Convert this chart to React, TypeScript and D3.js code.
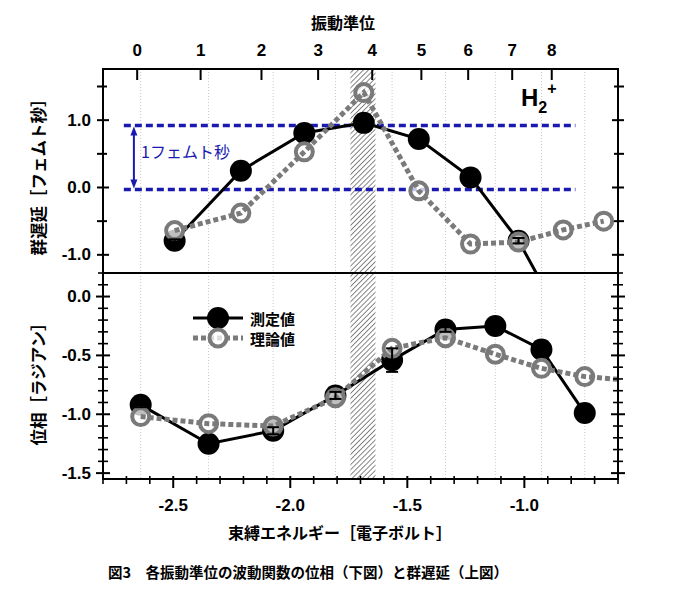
import React from "react";
import * as d3 from "d3";

// ---- data ----
const energyLevels = [-2.639, -2.349, -2.073, -1.807, -1.565, -1.337, -1.124, -0.927, -0.742];
const measuredPhase = [-0.92, -1.25, -1.14, -0.84, -0.54, -0.28, -0.25, -0.45, -0.99];
const measuredPhaseErr = [0.02, 0.02, 0.03, 0.03, 0.1, 0.02, 0.02, 0.03, 0.02];
const theoryPhaseEnergy = [-2.639, -2.349, -2.073, -1.807, -1.565, -1.337, -1.124, -0.927, -0.742, -0.5];
const theoryPhase = [-1.02, -1.08, -1.1, -0.86, -0.44, -0.35, -0.49, -0.61, -0.68, -0.72];

const delayEnergy = [-2.494, -2.211, -1.94, -1.686, -1.451, -1.23, -1.025, -0.834, -0.661];
const measuredDelay = [-0.79, 0.25, 0.81, 0.96, 0.72, 0.15, -0.79, -2.0];
const measuredDelayErr = [0.02, 0.02, 0.02, 0.02, 0.02, 0.02, 0.04, 0.02];
const theoryDelay = [-0.64, -0.38, 0.53, 1.41, -0.05, -0.84, -0.81, -0.63, -0.5];

const vibTickEnergy = [-2.654, -2.383, -2.123, -1.881, -1.65, -1.44, -1.24, -1.052, -0.883];
const vibTickLabels = ["0", "1", "2", "3", "4", "5", "6", "7", "8"];
const bottomTicks = [-2.5, -2.0, -1.5, -1.0];
const upperTicks = [-1.0, 0.0, 1.0];
const lowerTicks = [-1.5, -1.0, -0.5, 0.0];
const bandRange = [-1.743, -1.636];
const fsLines = [0.92, -0.03];
const fsLineRange = [-2.711, -0.782];
const fsArrowEnergy = -2.668;

const W = 680, H = 600;
const L = 103, R = 618, T = 69, MID = 273, B = 479;
const FONT = "'Liberation Sans', Arial, sans-serif";
const JFONT = "'Noto Sans CJK JP', 'Liberation Sans', sans-serif";
const BLUE = "#1a1ab0";
const GRAY = "#7a7a7a";

export default function App() {
  const x = d3.scaleLinear().domain([-2.8, -0.6]).range([L, R]);
  const yU = d3.scaleLinear().domain([-1.27, 1.76]).range([MID, T]);
  const yL = d3.scaleLinear().domain([-1.55, 0.2]).range([B, MID]);

  const lineU = d3.line<[number, number]>().x(d => x(d[0])).y(d => yU(d[1]));
  const lineL = d3.line<[number, number]>().x(d => x(d[0])).y(d => yL(d[1]));

  const mDelay: [number, number][] = measuredDelay.map((v, i) => [delayEnergy[i], v]);
  const tDelay: [number, number][] = theoryDelay.map((v, i) => [delayEnergy[i], v]);
  const mPhase: [number, number][] = measuredPhase.map((v, i) => [energyLevels[i], v]);
  const tPhase: [number, number][] = theoryPhase.map((v, i) => [theoryPhaseEnergy[i], v]);

  const bottomMinor = d3.range(-2.8, -0.59, 0.1).map(v => +v.toFixed(2));
  const upperMinor = d3.range(-1.0, 1.51, 0.5);
  const lowerMinor = d3.range(-1.5, 0.21, 0.1).map(v => +v.toFixed(2));

  const RB = 11; // black marker radius
  const RO = 8.5; // open marker radius

  const errBar = (cx: number, cy0: number, cy1: number, key: string) => (
    <g key={key} stroke="#000" strokeWidth={2}>
      <line x1={cx} x2={cx} y1={cy0} y2={cy1} />
      <line x1={cx - 6} x2={cx + 6} y1={cy0} y2={cy0} />
      <line x1={cx - 6} x2={cx + 6} y1={cy1} y2={cy1} />
    </g>
  );

  return (
    <svg width={W} height={H} style={{ position: "absolute", left: 0, top: 0, background: "#fff" }}>
      <defs>
        <clipPath id="clipU"><rect x={L} y={T} width={R - L} height={MID - T} /></clipPath>
        <clipPath id="clipL"><rect x={L} y={MID} width={R - L} height={B - MID} /></clipPath>
        <pattern id="hatch" patternUnits="userSpaceOnUse" width={3.6} height={3.6} patternTransform="rotate(45)">
          <line x1={0} y1={0} x2={0} y2={3.6} stroke="#444" strokeWidth={1.3} />
        </pattern>
      </defs>
      <rect x={0} y={0} width={W} height={H} fill="#fff" />

      {/* grid lines */}
      {energyLevels.map((e, i) => (
        <line key={"g" + i} x1={x(e)} x2={x(e)} y1={T} y2={B} stroke="#c8c8c8" strokeWidth={1} strokeDasharray="1,2" />
      ))}

      {/* hatched band */}
      <rect x={x(bandRange[0])} y={T} width={x(bandRange[1]) - x(bandRange[0])} height={B - T} fill="url(#hatch)" />

      {/* top axis ticks */}
      {vibTickEnergy.map((e, i) => (
        <g key={"vt" + i}>
          <line x1={x(e)} x2={x(e)} y1={T} y2={T + 11} stroke="#000" strokeWidth={2} />
          <text x={x(e)} y={50} textAnchor="middle" dominantBaseline="central" fontFamily={FONT} fontWeight="bold" fontSize={17}>{vibTickLabels[i]}</text>
        </g>
      ))}
      <text x={343} y={22} textAnchor="middle" dominantBaseline="central" fontFamily={JFONT} fontWeight="bold" fontSize={16}>振動準位</text>

      {/* upper panel */}
      <g clipPath="url(#clipU)">
        {fsLines.map((v, i) => (
          <line key={"fs" + i} x1={x(fsLineRange[0])} x2={x(fsLineRange[1])} y1={yU(v)} y2={yU(v)} stroke={BLUE} strokeWidth={3.5} strokeDasharray="7,4" />
        ))}
        <path d={lineU(mDelay) || ""} fill="none" stroke="#000" strokeWidth={3} />
        {mDelay.map((d, i) => (
          <circle key={"mu" + i} cx={x(d[0])} cy={yU(d[1])} r={RB} fill="#000" />
        ))}
        {tDelay.map((d, i) => (
          <circle key={"tu" + i} cx={x(d[0])} cy={yU(d[1])} r={RO} fill="#fff" fillOpacity={0.75} stroke={GRAY} strokeWidth={4} />
        ))}
        <path d={lineU(tDelay) || ""} fill="none" stroke={GRAY} strokeWidth={5} strokeDasharray="5,3" />
        {mDelay.map((d, i) => errBar(x(d[0]), yU(d[1] - measuredDelayErr[i]), yU(d[1] + measuredDelayErr[i]), "eu" + i))}
      </g>
      {/* 1 fs arrow */}
      <g stroke={BLUE} fill={BLUE}>
        <line x1={x(fsArrowEnergy)} x2={x(fsArrowEnergy)} y1={yU(fsLines[0]) + 8} y2={yU(fsLines[1]) - 8} strokeWidth={2} />
        <path d={`M${x(fsArrowEnergy)},${yU(fsLines[0]) + 1} l-3.5,9 l7,0 z`} stroke="none" />
        <path d={`M${x(fsArrowEnergy)},${yU(fsLines[1]) - 1} l-3.5,-9 l7,0 z`} stroke="none" />
      </g>
      <text x={141} y={151} dominantBaseline="central" fontFamily={JFONT} fontSize={16} fill={BLUE}>1フェムト秒</text>
      <text x={521} y={106} fontFamily={FONT} fontWeight="bold" fontSize={24}>H<tspan fontSize={16} dy={7}>2</tspan><tspan fontSize={16} dy={-19}>+</tspan></text>

      {/* lower panel */}
      <g clipPath="url(#clipL)">
        <path d={lineL(mPhase) || ""} fill="none" stroke="#000" strokeWidth={3} />
        {mPhase.map((d, i) => (
          <circle key={"ml" + i} cx={x(d[0])} cy={yL(d[1])} r={RB} fill="#000" />
        ))}
        {tPhase.map((d, i) => (
          <circle key={"tl" + i} cx={x(d[0])} cy={yL(d[1])} r={RO} fill="#fff" fillOpacity={0.75} stroke={GRAY} strokeWidth={4} />
        ))}
        <path d={lineL(tPhase) || ""} fill="none" stroke={GRAY} strokeWidth={5} strokeDasharray="5,3" />
        {mPhase.map((d, i) => errBar(x(d[0]), yL(d[1] - measuredPhaseErr[i]), yL(d[1] + measuredPhaseErr[i]), "el" + i))}
      </g>

      {/* legend */}
      <g>
        <line x1={193} x2={243} y1={318} y2={318} stroke="#000" strokeWidth={3} />
        <circle cx={218} cy={318} r={RB} fill="#000" />
        <text x={250} y={318} dominantBaseline="central" fontFamily={JFONT} fontWeight="bold" fontSize={15}>測定値</text>
        <line x1={193} x2={243} y1={338} y2={338} stroke={GRAY} strokeWidth={5} strokeDasharray="5,3" />
        <circle cx={218} cy={338} r={RO} fill="#fff" fillOpacity={0.75} stroke={GRAY} strokeWidth={4} />
        <text x={250} y={338} dominantBaseline="central" fontFamily={JFONT} fontWeight="bold" fontSize={15}>理論値</text>
      </g>

      {/* frames */}
      <rect x={L} y={T} width={R - L} height={B - T} fill="none" stroke="#000" strokeWidth={2} />
      <line x1={L} x2={R} y1={MID} y2={MID} stroke="#000" strokeWidth={2} />

      {/* upper y axis ticks */}
      {upperMinor.map((v, i) => {
        const major = upperTicks.some(t => Math.abs(t - v) < 1e-6);
        return (
          <g key={"uy" + i} stroke="#000" strokeWidth={2}>
            <line x1={L - 6} x2={L + (major ? 6 : 4)} y1={yU(v)} y2={yU(v)} />
            <line x1={R - (major ? 6 : 4)} x2={R + 6} y1={yU(v)} y2={yU(v)} />
          </g>
        );
      })}
      {upperTicks.map((v, i) => (
        <text key={"uyl" + i} x={91} y={yU(v)} textAnchor="end" dominantBaseline="central" fontFamily={FONT} fontWeight="bold" fontSize={17}>{v.toFixed(1)}</text>
      ))}

      {/* lower y axis ticks */}
      {lowerMinor.map((v, i) => {
        const major = lowerTicks.some(t => Math.abs(t - v) < 1e-6);
        return (
          <g key={"ly" + i} stroke="#000" strokeWidth={major ? 2 : 1.6}>
            <line x1={L - (major ? 7 : 5)} x2={L + (major ? 7 : 5)} y1={yL(v)} y2={yL(v)} />
            <line x1={R - (major ? 7 : 5)} x2={R + (major ? 7 : 5)} y1={yL(v)} y2={yL(v)} />
          </g>
        );
      })}
      {lowerTicks.map((v, i) => (
        <text key={"lyl" + i} x={91} y={yL(v)} textAnchor="end" dominantBaseline="central" fontFamily={FONT} fontWeight="bold" fontSize={17}>{v.toFixed(1)}</text>
      ))}

      {/* bottom axis ticks */}
      {bottomMinor.map((v, i) => {
        const major = bottomTicks.some(t => Math.abs(t - v) < 1e-6);
        return (
          <line key={"bx" + i} x1={x(v)} x2={x(v)} y1={B - 3} y2={B + (major ? 9 : 5)} stroke="#000" strokeWidth={major ? 2 : 1.6} />
        );
      })}
      {bottomTicks.map((v, i) => (
        <text key={"bxl" + i} x={x(v)} y={505} textAnchor="middle" dominantBaseline="central" fontFamily={FONT} fontWeight="bold" fontSize={17}>{v.toFixed(1)}</text>
      ))}

      {/* axis titles */}
      <text x={340} y={532} textAnchor="middle" dominantBaseline="central" fontFamily={JFONT} fontWeight="bold" fontSize={16}>束縛エネルギー［電子ボルト］</text>
      <text transform={`translate(38,${(T + MID) / 2 + 2}) rotate(-90)`} textAnchor="middle" dominantBaseline="central" fontFamily={JFONT} fontWeight="bold" fontSize={16.5}>群遅延［フェムト秒］</text>
      <text transform={`translate(38,${(MID + B) / 2 + 4}) rotate(-90)`} textAnchor="middle" dominantBaseline="central" fontFamily={JFONT} fontWeight="bold" fontSize={16.5}>位相［ラジアン］</text>

      {/* caption */}
      <text x={108} y={571} dominantBaseline="central" fontFamily={JFONT} fontWeight="bold" fontSize={14.5}>図3　各振動準位の波動関数の位相（下図）と群遅延（上図）</text>
    </svg>
  );
}
